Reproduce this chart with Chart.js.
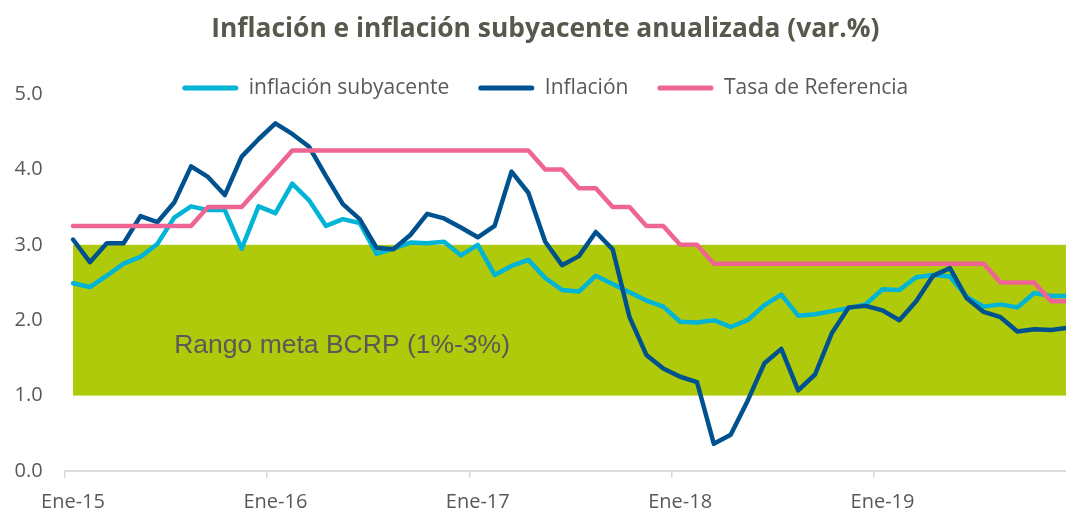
<!DOCTYPE html>
<html lang="es">
<head>
<meta charset="utf-8">
<title>Inflación e inflación subyacente anualizada</title>
<script src="https://cdn.jsdelivr.net/npm/chart.js@4.4.1/dist/chart.umd.min.js"></script>
<style>
  html, body { margin: 0; padding: 0; background: #fff; overflow: hidden; }
  #wrap { position: relative; width: 1080px; height: 512px; }
</style>
</head>
<body>
<div id="wrap"><canvas id="inflation-chart"></canvas></div>
<script>
const monthNames = ["Ene", "Feb", "Mar", "Abr", "May", "Jun", "Jul", "Ago", "Sep", "Oct", "Nov", "Dic"];
const years = ["15", "16", "17", "18", "19"];
const labels = years.flatMap((y) => monthNames.map((m) => m + "-" + y));

const subyacente = [
  2.49, 2.44, 2.59, 2.75, 2.84, 3.01, 3.36, 3.51, 3.46, 3.46, 2.95, 3.51,
  3.42, 3.81, 3.59, 3.25, 3.34, 3.29, 2.88, 2.95, 3.03, 3.02, 3.04, 2.86,
  3.00, 2.60, 2.72, 2.80, 2.56, 2.40, 2.38, 2.59, 2.48, 2.37, 2.26, 2.18,
  1.98, 1.97, 2.00, 1.91, 2.00, 2.20, 2.34, 2.06, 2.08, 2.12, 2.16, 2.21,
  2.41, 2.40, 2.57, 2.60, 2.58, 2.31, 2.18, 2.21, 2.17, 2.36, 2.32, 2.32,
];

const inflacion = [
  3.07, 2.77, 3.02, 3.02, 3.38, 3.30, 3.56, 4.04, 3.90, 3.66, 4.17, 4.40,
  4.61, 4.47, 4.30, 3.91, 3.54, 3.34, 2.96, 2.94, 3.13, 3.41, 3.35, 3.23,
  3.10, 3.25, 3.97, 3.69, 3.04, 2.73, 2.85, 3.17, 2.94, 2.04, 1.54, 1.36,
  1.25, 1.18, 0.36, 0.48, 0.93, 1.43, 1.62, 1.07, 1.28, 1.83, 2.17, 2.19,
  2.13, 2.00, 2.25, 2.59, 2.69, 2.29, 2.11, 2.04, 1.85, 1.88, 1.87, 1.90,
];

const tasaReferencia = [
  3.25, 3.25, 3.25, 3.25, 3.25, 3.25, 3.25, 3.25, 3.50, 3.50, 3.50, 3.75,
  4.00, 4.25, 4.25, 4.25, 4.25, 4.25, 4.25, 4.25, 4.25, 4.25, 4.25, 4.25,
  4.25, 4.25, 4.25, 4.25, 4.00, 4.00, 3.75, 3.75, 3.50, 3.50, 3.25, 3.25,
  3.00, 3.00, 2.75, 2.75, 2.75, 2.75, 2.75, 2.75, 2.75, 2.75, 2.75, 2.75,
  2.75, 2.75, 2.75, 2.75, 2.75, 2.75, 2.75, 2.50, 2.50, 2.50, 2.25, 2.25,
];

const yTicks = [0, 1, 2, 3, 4, 5];
const yTop = 4.808;

// rango meta del BCRP
const targetLow = 1;
const targetHigh = 3;
const targetLabel = "Rango meta BCRP (1%-3%)";
const targetLabelAt = { x: 6, y: 1.66 };

const textColor = "#595959";

Chart.defaults.font.family = "'Open Sans', Lato, sans-serif";
Chart.defaults.color = textColor;

const targetBand = {
  id: "targetBand",
  beforeDatasetsDraw(chart) {
    const { ctx, chartArea, scales: { x, y } } = chart;
    const left = x.getPixelForValue(0);
    const top = y.getPixelForValue(targetHigh);
    const bottom = y.getPixelForValue(targetLow);
    ctx.save();
    ctx.fillStyle = "#afca0b";
    ctx.fillRect(left, top, chartArea.right - left, bottom - top);
    ctx.fillStyle = textColor;
    ctx.font = "26.5px 'Liberation Sans', Arial, sans-serif";
    ctx.textBaseline = "middle";
    ctx.fillText(targetLabel, x.getPixelForValue(targetLabelAt.x), y.getPixelForValue(targetLabelAt.y));
    ctx.restore();
  },
};

const lineStyle = {
  borderWidth: 4.5,
  pointRadius: 0,
  tension: 0,
  borderJoinStyle: "round",
  borderCapStyle: "round",
};

new Chart(document.getElementById("inflation-chart"), {
  type: "line",
  data: {
    labels: labels,
    datasets: [
      { label: "inflación subyacente", data: subyacente, borderColor: "#00b4d8", backgroundColor: "#00b4d8", order: 3, ...lineStyle },
      { label: "Inflación", data: inflacion, borderColor: "#00528f", backgroundColor: "#00528f", order: 2, ...lineStyle },
      { label: "Tasa de Referencia", data: tasaReferencia, borderColor: "#ee6593", backgroundColor: "#ee6593", order: 1, ...lineStyle },
    ],
  },
  plugins: [targetBand],
  options: {
    responsive: true,
    maintainAspectRatio: false,
    animation: false,
    layout: {
      padding: { left: 12, right: 1.4, top: 0, bottom: 0 },
    },
    plugins: {
      title: {
        display: true,
        text: "Inflación e inflación subyacente anualizada (var.%)",
        color: "#58584c",
        font: { size: 26.4, weight: "bold" },
        padding: { top: 13.4, bottom: 3.4 },
      },
      legend: {
        position: "top",
        labels: {
          font: { size: 21 },
          color: textColor,
          boxWidth: 56,
          boxHeight: 5,
          padding: 29,
          useBorderRadius: true,
          borderRadius: 2.5,
          sort: (a, b) => a.datasetIndex - b.datasetIndex,
          generateLabels(chart) {
            const items = Chart.defaults.plugins.legend.labels.generateLabels(chart);
            items.forEach((item) => {
              item.fillStyle = item.strokeStyle;
              item.lineWidth = 0;
            });
            return items;
          },
        },
      },
      tooltip: { enabled: false },
    },
    scales: {
      x: {
        offset: true,
        grid: {
          offset: true,
          drawOnChartArea: false,
          tickLength: 7,
          lineWidth: 1.5,
          color: (c) => (c.index % 12 === 0 ? "#d9d9d9" : "rgba(0,0,0,0)"),
        },
        border: { color: "#dcdcdc", width: 2 },
        ticks: {
          autoSkip: false,
          maxRotation: 0,
          padding: 12,
          font: { size: 20 },
          callback: (v, i) => (i % 12 === 0 ? labels[i] : ""),
        },
        afterFit(scale) {
          scale.height = 41;
        },
      },
      y: {
        min: 0,
        max: yTop,
        grid: { display: false, drawTicks: false },
        border: { display: false },
        ticks: {
          padding: 22,
          font: { size: 20 },
          callback: (v) => Number(v).toFixed(1),
        },
        afterBuildTicks(scale) {
          scale.ticks = yTicks.map((v) => ({ value: v }));
        },
        afterFit(scale) {
          scale.width = 52.6;
        },
      },
    },
  },
});
</script>
</body>
</html>
